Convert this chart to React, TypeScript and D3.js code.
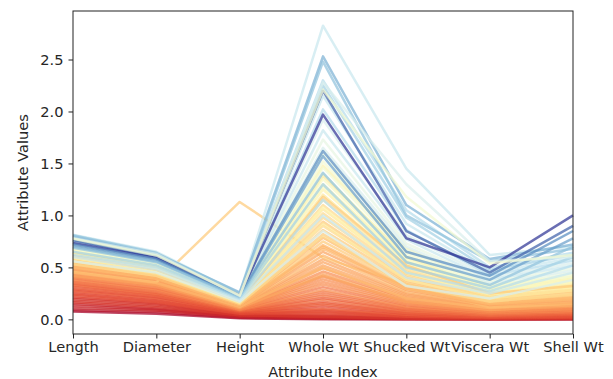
import React, { useRef, useEffect } from "react";
import * as d3 from "d3";

// attribute (x axis) names
const attributes = [
  "Length",
  "Diameter",
  "Height",
  "Whole Wt",
  "Shucked Wt",
  "Viscera Wt",
  "Shell Wt",
];

// one entry per specimen, same order in every array
const lengthVals = [
  0.075, 0.09, 0.11, 0.13, 0.15, 0.165, 0.18, 0.195, 0.21, 0.225,
  0.24, 0.25, 0.265, 0.275, 0.29, 0.3, 0.315, 0.325, 0.335, 0.345,
  0.355, 0.365, 0.375, 0.385, 0.395, 0.405, 0.415, 0.425, 0.435, 0.445,
  0.455, 0.465, 0.475, 0.485, 0.495, 0.455, 0.42, 0.45, 0.505, 0.515,
  0.52, 0.53, 0.54, 0.545, 0.555, 0.565, 0.57, 0.58, 0.59, 0.6,
  0.605, 0.615, 0.625, 0.635, 0.64, 0.65, 0.5, 0.53, 0.56, 0.59,
  0.61, 0.63, 0.64, 0.67, 0.66, 0.67, 0.68, 0.69, 0.7, 0.705,
  0.715, 0.725, 0.735, 0.745, 0.755, 0.765, 0.78, 0.815, 0.8, 0.81,
  0.76, 0.735, 0.72, 0.7, 0.69, 0.65, 0.62, 0.6, 0.56, 0.78,
  0.775,
];
const diameterVals = [
  0.055, 0.07, 0.085, 0.095, 0.105, 0.12, 0.13, 0.145, 0.155, 0.165,
  0.175, 0.185, 0.195, 0.205, 0.215, 0.225, 0.235, 0.24, 0.25, 0.255,
  0.265, 0.275, 0.285, 0.29, 0.3, 0.31, 0.32, 0.325, 0.335, 0.345,
  0.35, 0.36, 0.37, 0.375, 0.385, 0.355, 0.33, 0.35, 0.395, 0.4,
  0.405, 0.415, 0.42, 0.425, 0.435, 0.44, 0.45, 0.455, 0.465, 0.47,
  0.475, 0.485, 0.49, 0.5, 0.505, 0.515, 0.39, 0.42, 0.44, 0.46,
  0.48, 0.495, 0.51, 0.525, 0.52, 0.53, 0.535, 0.545, 0.555, 0.56,
  0.565, 0.575, 0.585, 0.59, 0.6, 0.605, 0.62, 0.65, 0.63, 0.64,
  0.6, 0.59, 0.58, 0.56, 0.55, 0.52, 0.5, 0.48, 0.45, 0.63,
  0.615,
];
const heightVals = [
  0.01, 0.015, 0.025, 0.03, 0.035, 0.04, 0.04, 0.045, 0.05, 0.055,
  0.06, 0.06, 0.065, 0.07, 0.07, 0.075, 0.08, 0.08, 0.085, 0.085,
  0.09, 0.09, 0.095, 0.095, 0.1, 0.1, 0.105, 0.105, 0.11, 0.115,
  0.115, 0.12, 0.12, 0.125, 0.13, 1.13, 0.11, 0.12, 0.13, 0.135,
  0.135, 0.14, 0.14, 0.145, 0.15, 0.15, 0.155, 0.155, 0.16, 0.165,
  0.165, 0.17, 0.175, 0.175, 0.18, 0.18, 0.14, 0.15, 0.16, 0.165,
  0.17, 0.18, 0.185, 0.19, 0.185, 0.19, 0.19, 0.195, 0.2, 0.205,
  0.21, 0.21, 0.215, 0.22, 0.225, 0.23, 0.235, 0.25, 0.26, 0.245,
  0.23, 0.225, 0.22, 0.215, 0.21, 0.2, 0.19, 0.18, 0.17, 0.225,
  0.23,
];
const wholeWtVals = [
  0.002, 0.005, 0.009, 0.013, 0.018, 0.022, 0.028, 0.036, 0.048, 0.06,
  0.07, 0.08, 0.095, 0.105, 0.125, 0.14, 0.155, 0.17, 0.19, 0.205,
  0.225, 0.245, 0.265, 0.285, 0.31, 0.335, 0.36, 0.385, 0.41, 0.435,
  0.46, 0.49, 0.52, 0.55, 0.58, 0.594, 0.42, 0.5, 0.615, 0.65,
  0.68, 0.715, 0.75, 0.785, 0.82, 0.86, 0.9, 0.94, 0.98, 1.02,
  1.06, 1.1, 1.15, 1.2, 1.25, 1.3, 0.7, 0.8, 0.92, 1.08,
  1.18, 1.28, 1.38, 1.48, 1.35, 1.4, 1.46, 1.52, 1.59, 1.65,
  1.73, 1.82, 1.92, 2.02, 2.15, 2.25, 2.3, 2.8255, 2.53, 2.48,
  2.2, 1.97, 1.62, 1.57, 1.41, 1.3, 1.15, 1.0, 0.85, 2.28,
  2.21,
];
const shuckedWtVals = [
  0.001, 0.002, 0.003, 0.005, 0.007, 0.009, 0.011, 0.015, 0.02, 0.025,
  0.03, 0.034, 0.04, 0.045, 0.053, 0.06, 0.066, 0.073, 0.082, 0.089,
  0.097, 0.106, 0.115, 0.124, 0.135, 0.146, 0.157, 0.168, 0.178, 0.19,
  0.2, 0.213, 0.226, 0.239, 0.252, 0.332, 0.17, 0.2, 0.267, 0.282,
  0.295, 0.31, 0.325, 0.34, 0.355, 0.372, 0.39, 0.407, 0.424, 0.44,
  0.458, 0.475, 0.495, 0.515, 0.535, 0.555, 0.3, 0.33, 0.38, 0.45,
  0.52, 0.56, 0.6, 0.68, 0.575, 0.595, 0.62, 0.645, 0.67, 0.7,
  0.73, 0.77, 0.81, 0.86, 0.92, 0.98, 1.05, 1.45, 1.1, 1.0,
  0.85, 0.78, 0.65, 0.6, 0.55, 0.5, 0.45, 0.4, 0.32, 1.3,
  1.18,
];
const visceraWtVals = [
  0.0005, 0.001, 0.002, 0.003, 0.004, 0.005, 0.006, 0.008, 0.01, 0.012,
  0.015, 0.017, 0.02, 0.023, 0.027, 0.03, 0.033, 0.036, 0.04, 0.044,
  0.048, 0.052, 0.057, 0.061, 0.066, 0.071, 0.077, 0.082, 0.088, 0.093,
  0.099, 0.105, 0.112, 0.118, 0.124, 0.116, 0.09, 0.11, 0.131, 0.139,
  0.145, 0.152, 0.16, 0.167, 0.175, 0.183, 0.192, 0.2, 0.209, 0.218,
  0.226, 0.235, 0.245, 0.256, 0.266, 0.277, 0.15, 0.17, 0.2, 0.24,
  0.25, 0.28, 0.3, 0.33, 0.288, 0.3, 0.312, 0.325, 0.34, 0.352,
  0.367, 0.385, 0.405, 0.425, 0.45, 0.475, 0.5, 0.62, 0.58, 0.56,
  0.45, 0.5, 0.42, 0.38, 0.33, 0.3, 0.27, 0.25, 0.2, 0.56,
  0.54,
];
const shellWtVals = [
  0.0015, 0.002, 0.003, 0.004, 0.005, 0.007, 0.009, 0.011, 0.015, 0.018,
  0.021, 0.024, 0.028, 0.032, 0.037, 0.041, 0.046, 0.05, 0.056, 0.06,
  0.066, 0.072, 0.078, 0.084, 0.09, 0.097, 0.104, 0.11, 0.118, 0.125,
  0.132, 0.14, 0.148, 0.157, 0.165, 0.1335, 0.13, 0.15, 0.175, 0.185,
  0.193, 0.203, 0.213, 0.223, 0.233, 0.245, 0.256, 0.267, 0.279, 0.29,
  0.302, 0.313, 0.327, 0.341, 0.355, 0.37, 0.2, 0.24, 0.28, 0.31,
  0.32, 0.36, 0.39, 0.41, 0.385, 0.4, 0.415, 0.432, 0.45, 0.47,
  0.49, 0.515, 0.54, 0.565, 0.59, 0.62, 0.64, 0.7, 0.72, 0.68,
  0.9, 1.0, 0.85, 0.78, 0.7, 0.6, 0.52, 0.45, 0.38, 0.6,
  0.62,
];
// label used for the line colour
const rings = [
  1, 2, 3, 3, 3, 4, 4, 4, 4, 5,
  5, 5, 5, 6, 5, 6, 6, 6, 7, 6,
  7, 7, 7, 8, 7, 8, 8, 8, 8, 9,
  8, 9, 9, 9, 9, 11, 9, 10, 10, 9,
  10, 10, 11, 10, 11, 11, 12, 11, 12, 12,
  13, 12, 13, 13, 14, 14, 10, 12, 13, 14,
  11, 15, 13, 14, 15, 15, 16, 16, 17, 18,
  17, 19, 18, 20, 19, 21, 20, 19, 23, 22,
  27, 29, 25, 24, 22, 21, 20, 19, 18, 18,
  16,
];

const yTicks = [0, 0.5, 1.0, 1.5, 2.0, 2.5];

const W = 613;
const H = 379;
const margin = { top: 11, right: 40, bottom: 45, left: 73 };
const FONT = "DejaVu Sans, sans-serif";
const FS = 14.6;

function ParallelPlot() {
  const svgRef = useRef<SVGSVGElement>(null);

  useEffect(() => {
    if (!svgRef.current) return;

    const rows = rings.map((r, i) => ({
      rings: r,
      values: [
        lengthVals[i],
        diameterVals[i],
        heightVals[i],
        wholeWtVals[i],
        shuckedWtVals[i],
        visceraWtVals[i],
        shellWtVals[i],
      ],
    }));

    const svg = d3.select(svgRef.current);
    svg.selectAll("*").remove();

    const x = d3
      .scalePoint<string>()
      .domain(attributes)
      .range([margin.left, W - margin.right]);

    // matplotlib style 5% margins around data
    const all = rows.flatMap((d) => d.values);
    const [lo, hi] = d3.extent(all) as [number, number];
    const pad = (hi - lo) * 0.05;
    const y = d3
      .scaleLinear()
      .domain([lo - pad, hi + pad])
      .range([H - margin.bottom, margin.top]);

    const color = d3
      .scaleSequential(d3.interpolateRdYlBu)
      .domain(d3.extent(rings) as [number, number]);

    const line = d3
      .line<number>()
      .x((_, i) => x(attributes[i]) as number)
      .y((d) => y(d));

    // data lines
    svg
      .append("g")
      .selectAll("path")
      .data(rows)
      .join("path")
      .attr("d", (d) => line(d.values))
      .attr("fill", "none")
      .attr("stroke", (d) => color(d.rings))
      .attr("stroke-width", 2.5)
      .attr("stroke-opacity", 0.72)
      .attr("stroke-linejoin", "round");

    // frame
    svg
      .append("rect")
      .attr("x", margin.left)
      .attr("y", margin.top)
      .attr("width", W - margin.left - margin.right)
      .attr("height", H - margin.top - margin.bottom)
      .attr("fill", "none")
      .attr("stroke", "#222")
      .attr("stroke-width", 1);

    // y axis
    const yAxis = svg
      .append("g")
      .attr("transform", `translate(${margin.left},0)`)
      .call(
        d3
          .axisLeft(y)
          .tickValues(yTicks)
          .tickFormat(d3.format(".1f"))
          .tickSize(4.5)
          .tickPadding(5)
      );
    yAxis.select(".domain").remove();
    yAxis.selectAll("line").attr("stroke", "#222");
    yAxis
      .selectAll("text")
      .attr("font-family", FONT)
      .attr("font-size", FS)
      .attr("fill", "#262626");

    // x axis
    const xAxis = svg
      .append("g")
      .attr("transform", `translate(0,${H - margin.bottom})`)
      .call(d3.axisBottom(x).tickSize(4.5).tickPadding(3.5));
    xAxis.select(".domain").remove();
    xAxis.selectAll("line").attr("stroke", "#222");
    xAxis
      .selectAll("text")
      .attr("font-family", FONT)
      .attr("font-size", FS)
      .attr("fill", "#262626");

    // axis titles
    svg
      .append("text")
      .attr("x", (margin.left + W - margin.right) / 2)
      .attr("y", 377)
      .attr("text-anchor", "middle")
      .attr("font-family", FONT)
      .attr("font-size", FS)
      .attr("fill", "#262626")
      .text("Attribute Index");

    svg
      .append("text")
      .attr(
        "transform",
        `translate(28,${(margin.top + H - margin.bottom) / 2}) rotate(-90)`
      )
      .attr("text-anchor", "middle")
      .attr("font-family", FONT)
      .attr("font-size", FS)
      .attr("fill", "#262626")
      .text("Attribute Values");
  }, []);

  return (
    <svg
      ref={svgRef}
      width={W}
      height={H}
      style={{ position: "absolute", left: 0, top: 0, background: "#fff" }}
    ></svg>
  );
}

export default function App() {
  return <ParallelPlot />;
}
